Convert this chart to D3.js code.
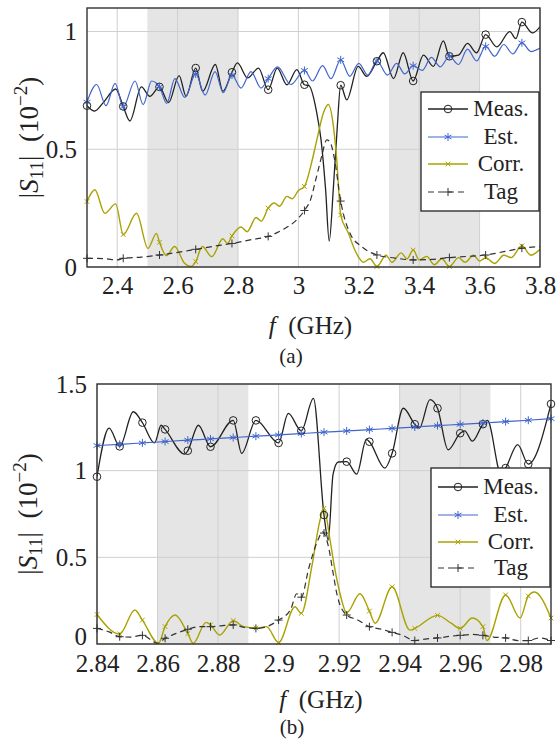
<!DOCTYPE html>
<html><head><meta charset="utf-8">
<script src="https://cdn.jsdelivr.net/npm/d3@7"></script>
<style>body{margin:0;background:#fff}</style>
</head><body>
<svg id="c" width="557" height="740"></svg>
<script>
// ---------------- DATA : panel (a) ----------------
const seriesNames = ["Meas.", "Est.", "Corr.", "Tag"];
const xTicksA = [2.4, 2.6, 2.8, 3, 3.2, 3.4, 3.6, 3.8];
const yTicksA = [0, 0.5, 1];
const bandsA = [[2.5, 2.8], [3.3, 3.6]];
const markXA = [2.30, 2.42, 2.54, 2.66, 2.78, 2.90, 3.02, 3.14, 3.26, 3.38, 3.50, 3.62, 3.74];
const measA = [[2.300,0.685],[2.325,0.662],[2.355,0.700],[2.395,0.756],[2.420,0.682],[2.442,0.620],[2.480,0.765],[2.508,0.725],[2.540,0.765],[2.570,0.698],[2.605,0.813],[2.628,0.725],[2.660,0.845],[2.683,0.746],[2.725,0.860],[2.750,0.746],[2.780,0.827],[2.798,0.867],[2.832,0.803],[2.868,0.845],[2.900,0.753],[2.930,0.845],[2.962,0.774],[2.995,0.838],[3.020,0.774],[3.035,0.770],[3.060,0.660],[3.075,0.540],[3.090,0.330],[3.102,0.110],[3.116,0.340],[3.128,0.580],[3.140,0.772],[3.160,0.710],[3.198,0.852],[3.226,0.810],[3.260,0.874],[3.281,0.910],[3.315,0.800],[3.347,0.910],[3.380,0.790],[3.414,0.900],[3.447,0.852],[3.480,0.960],[3.500,0.895],[3.530,0.900],[3.560,0.950],[3.590,0.910],[3.620,0.987],[3.657,0.935],[3.700,1.000],[3.720,0.970],[3.740,1.040],[3.775,0.994],[3.800,1.020]];
const estA = [[2.300,0.700],[2.332,0.775],[2.363,0.685],[2.393,0.780],[2.420,0.680],[2.459,0.790],[2.486,0.690],[2.514,0.790],[2.540,0.765],[2.564,0.695],[2.591,0.800],[2.624,0.720],[2.660,0.820],[2.691,0.730],[2.724,0.830],[2.751,0.740],[2.780,0.815],[2.810,0.760],[2.843,0.830],[2.876,0.760],[2.900,0.800],[2.931,0.850],[2.975,0.775],[3.020,0.835],[3.047,0.790],[3.080,0.855],[3.108,0.800],[3.140,0.880],[3.170,0.810],[3.200,0.865],[3.230,0.815],[3.260,0.875],[3.295,0.815],[3.325,0.865],[3.352,0.820],[3.380,0.855],[3.410,0.835],[3.440,0.890],[3.470,0.850],[3.500,0.895],[3.530,0.860],[3.560,0.925],[3.590,0.875],[3.620,0.937],[3.650,0.895],[3.680,0.945],[3.710,0.905],[3.740,0.952],[3.770,0.915],[3.800,0.930]];
const corrA = [[2.300,0.278],[2.326,0.328],[2.359,0.228],[2.395,0.268],[2.420,0.138],[2.464,0.228],[2.502,0.079],[2.530,0.143],[2.540,0.105],[2.563,0.048],[2.590,0.087],[2.623,0.016],[2.645,0.002],[2.660,0.023],[2.682,0.087],[2.713,0.044],[2.750,0.120],[2.765,0.100],[2.780,0.132],[2.810,0.170],[2.830,0.150],[2.860,0.210],[2.877,0.195],[2.900,0.250],[2.920,0.272],[2.937,0.258],[2.962,0.300],[2.980,0.290],[3.000,0.325],[3.020,0.342],[3.045,0.450],[3.062,0.545],[3.083,0.655],[3.099,0.690],[3.116,0.597],[3.127,0.455],[3.140,0.221],[3.165,0.145],[3.187,0.072],[3.200,0.040],[3.215,0.020],[3.237,0.035],[3.260,0.002],[3.290,0.050],[3.310,0.020],[3.340,0.060],[3.360,0.035],[3.380,0.072],[3.400,0.030],[3.425,0.045],[3.450,0.010],[3.475,0.035],[3.500,0.002],[3.530,0.040],[3.552,0.020],[3.580,0.050],[3.600,0.025],[3.620,0.040],[3.650,0.015],[3.680,0.050],[3.705,0.040],[3.740,0.090],[3.770,0.050],[3.800,0.075]];
const tagA = [[2.300,0.037],[2.360,0.035],[2.400,0.030],[2.420,0.037],[2.480,0.042],[2.540,0.051],[2.600,0.062],[2.660,0.075],[2.720,0.088],[2.780,0.100],[2.840,0.115],[2.900,0.130],[2.950,0.160],[2.990,0.195],[3.020,0.240],[3.040,0.285],[3.060,0.384],[3.077,0.470],[3.094,0.540],[3.105,0.530],[3.120,0.455],[3.140,0.280],[3.170,0.145],[3.210,0.086],[3.260,0.051],[3.320,0.038],[3.380,0.030],[3.440,0.032],[3.500,0.040],[3.560,0.045],[3.620,0.051],[3.680,0.065],[3.740,0.080],[3.800,0.087]];

// ---------------- DATA : panel (b) ----------------
const xTicksB = [2.84, 2.86, 2.88, 2.9, 2.92, 2.94, 2.96, 2.98];
const yTicksB = [0, 0.5, 1, 1.5];
const bandsB = [[2.86, 2.89], [2.94, 2.97]];
const markXB = [2.84,2.8475,2.855,2.8625,2.87,2.8775,2.885,2.8925,2.9,2.9075,2.915,2.9225,2.93,2.9375,2.945,2.9525,2.96,2.9675,2.975,2.9825,2.99];
const measB = [[2.8400,0.965],[2.8440,1.245],[2.8475,1.140],[2.8520,1.340],[2.8550,1.277],[2.8590,1.160],[2.8612,1.262],[2.8625,1.238],[2.8690,1.095],[2.8700,1.115],[2.8735,1.262],[2.8775,1.138],[2.8850,1.290],[2.8878,1.100],[2.8925,1.290],[2.9000,1.160],[2.9032,1.330],[2.9075,1.230],[2.9115,1.417],[2.9150,0.744],[2.9164,0.600],[2.9180,0.980],[2.9197,1.050],[2.9225,1.052],[2.9258,0.980],[2.9290,1.180],[2.9300,1.167],[2.9351,1.015],[2.9375,1.100],[2.9412,1.360],[2.9450,1.268],[2.9465,1.245],[2.9500,1.410],[2.9525,1.360],[2.9560,1.120],[2.9600,1.216],[2.9615,1.230],[2.9640,1.170],[2.9675,1.268],[2.9690,1.290],[2.9735,0.980],[2.9750,1.015],[2.9790,1.150],[2.9825,1.038],[2.9900,1.385]];
const estB = [[2.84,1.145],[2.8475,1.152],[2.855,1.160],[2.8625,1.168],[2.87,1.176],[2.8775,1.183],[2.885,1.191],[2.8925,1.199],[2.9,1.206],[2.9075,1.214],[2.915,1.222],[2.9225,1.229],[2.93,1.237],[2.9375,1.244],[2.945,1.252],[2.9525,1.260],[2.96,1.267],[2.9675,1.275],[2.975,1.283],[2.9825,1.291],[2.99,1.300]];
const corrB = [[2.8400,0.170],[2.8475,0.058],[2.8525,0.196],[2.8550,0.138],[2.8603,0.004],[2.8625,0.100],[2.8658,0.167],[2.8700,0.060],[2.8718,0.004],[2.8760,0.125],[2.8775,0.110],[2.8805,0.052],[2.8850,0.135],[2.8885,0.100],[2.8925,0.092],[2.8960,0.100],[2.9000,0.008],[2.9054,0.215],[2.9075,0.177],[2.9110,0.450],[2.9135,0.700],[2.9150,0.783],[2.9170,0.600],[2.9185,0.440],[2.9203,0.290],[2.9225,0.180],[2.9269,0.290],[2.9300,0.190],[2.9319,0.120],[2.9375,0.330],[2.9434,0.080],[2.9450,0.090],[2.9525,0.165],[2.9570,0.120],[2.9600,0.090],[2.9640,0.150],[2.9675,0.100],[2.9688,0.020],[2.9750,0.283],[2.9798,0.150],[2.9825,0.277],[2.9845,0.300],[2.9900,0.150]];
const tagB = [[2.8400,0.090],[2.8440,0.070],[2.8475,0.042],[2.8510,0.040],[2.8550,0.050],[2.8600,0.004],[2.8625,0.033],[2.8660,0.060],[2.8700,0.085],[2.8740,0.100],[2.8775,0.100],[2.8810,0.105],[2.8850,0.110],[2.8890,0.095],[2.8925,0.090],[2.8960,0.100],[2.9000,0.138],[2.9040,0.200],[2.9060,0.290],[2.9075,0.270],[2.9100,0.440],[2.9130,0.600],[2.9145,0.648],[2.9150,0.640],[2.9165,0.560],[2.9180,0.410],[2.9195,0.270],[2.9225,0.167],[2.9260,0.140],[2.9300,0.100],[2.9340,0.085],[2.9375,0.067],[2.9410,0.050],[2.9450,0.020],[2.9490,0.030],[2.9525,0.035],[2.9570,0.045],[2.9600,0.050],[2.9640,0.055],[2.9675,0.050],[2.9710,0.040],[2.9750,0.035],[2.9790,0.020],[2.9825,0.020],[2.9860,0.035],[2.9900,0.020]];

// ---------------- STYLES ----------------
const FONT = '"Liberation Serif", "Times New Roman", serif';
const styles = [
  {color:"#222222", mark:"o", dash:null, w:1.3},
  {color:"#4066cc", mark:"*", dash:null, w:1.2},
  {color:"#a9a200", mark:"x", dash:null, w:1.4},
  {color:"#333333", mark:"+", dash:"6,4", w:1.2}
];

const svg = d3.select("#c");

function drawMarker(g, type, color) {
  if (type === "o") {
    g.append("circle").attr("r", 3.8).attr("fill", "none").attr("stroke", color).attr("stroke-width", 1);
  } else {
    const r = type === "*" ? 4 : (type === "x" ? 3.3 : 4);
    const angles = type === "*" ? [90, 30, -30] : (type === "x" ? [45, -45] : [0, 90]);
    angles.forEach(a => {
      const t = a * Math.PI / 180;
      g.append("line").attr("x1", -r*Math.cos(t)).attr("y1", -r*Math.sin(t))
        .attr("x2", r*Math.cos(t)).attr("y2", r*Math.sin(t))
        .attr("stroke", color).attr("stroke-width", 1);
    });
  }
}

function panel(c) {
  const x = d3.scaleLinear().domain(c.xDom).range([c.x0, c.x1]);
  const y = d3.scaleLinear().domain(c.yDom).range([c.y1, c.y0]);
  const g = svg.append("g");
  g.append("clipPath").attr("id", c.id).append("rect")
    .attr("x", c.x0).attr("y", c.y0).attr("width", c.x1 - c.x0).attr("height", c.y1 - c.y0);
  // bands
  g.selectAll(".band").data(c.bands).join("rect")
    .attr("x", d => x(d[0])).attr("width", d => x(d[1]) - x(d[0]))
    .attr("y", c.y0).attr("height", c.y1 - c.y0).attr("fill", "#e5e5e5");
  // grid
  g.selectAll(".gx").data(c.xTicks).join("line")
    .attr("x1", d => x(d)).attr("x2", d => x(d)).attr("y1", c.y0).attr("y2", c.y1)
    .attr("stroke", "#cfcfcf").attr("stroke-width", 1);
  g.selectAll(".gy").data(c.yTicks).join("line")
    .attr("y1", d => y(d)).attr("y2", d => y(d)).attr("x1", c.x0).attr("x2", c.x1)
    .attr("stroke", "#cfcfcf").attr("stroke-width", 1);
  // lines
  const line = d3.line().x(d => x(d[0])).y(d => y(d[1])).curve(d3.curveMonotoneX);
  const lg = g.append("g").attr("clip-path", `url(#${c.id})`);
  c.series.forEach((s, i) => {
    const st = styles[i];
    lg.append("path").datum(s).attr("d", line).attr("fill", "none")
      .attr("stroke", st.color).attr("stroke-width", st.w)
      .attr("stroke-dasharray", st.dash);
  });
  // markers
  c.series.forEach((s, i) => {
    const st = styles[i];
    const pts = s.filter(d => c.markX.some(m => Math.abs(m - d[0]) < 1e-6));
    pts.forEach(d => {
      const mg = g.append("g").attr("transform", `translate(${x(d[0])},${y(d[1])})`);
      drawMarker(mg, st.mark, st.color);
    });
  });
  // axes
  const ax = g.append("g").attr("transform", `translate(0,${c.y1})`)
    .call(d3.axisBottom(x).tickValues(c.xTicks).tickSize(0).tickPadding(c.xpad).tickFormat(d => String(d)));
  ax.select(".domain").remove();
  ax.selectAll("text").style("font-size", "25px");
  const ay = g.append("g").attr("transform", `translate(${c.x0},0)`)
    .call(d3.axisLeft(y).tickValues(c.yTicks).tickSize(0).tickPadding(10).tickFormat(d => String(d)));
  ay.select(".domain").remove();
  ay.selectAll("text").style("font-size", "25px").attr("dy", d => d === 0 ? (c.zeroDy || "0.32em") : "0.32em");
  // frame
  g.append("rect").attr("x", c.x0).attr("y", c.y0).attr("width", c.x1 - c.x0).attr("height", c.y1 - c.y0)
    .attr("fill", "none").attr("stroke", "#333").attr("stroke-width", 1.4);
  // y label
  const yl = g.append("text").attr("transform", `translate(${c.ylx},${(c.y0 + c.y1) / 2}) rotate(-90)`)
    .attr("text-anchor", "middle").style("font-size", "27px");
  yl.append("tspan").text("|");
  yl.append("tspan").style("font-style", "italic").text("S");
  yl.append("tspan").style("font-size", "19px").attr("dy", 5).text("11");
  yl.append("tspan").attr("dy", -5).text("|\u2002(10");
  yl.append("tspan").style("font-size", "19px").attr("dy", -11).text("−2");
  yl.append("tspan").attr("dy", 11).text(")");
  // x label
  const xl = g.append("text").attr("x", (c.x0 + c.x1) / 2 - 3).attr("y", c.xly)
    .attr("text-anchor", "middle").style("font-size", "25px");
  xl.append("tspan").style("font-style", "italic").text("f");
  xl.append("tspan").text("\u2002(GHz)");
  g.append("text").attr("x", c.capx).attr("y", c.capy).attr("text-anchor", "middle")
    .style("font-size", "21px").text(c.cap);
  // legend
  const L = c.legend;
  const leg = g.append("g");
  leg.append("rect").attr("x", L.x).attr("y", L.y).attr("width", L.w).attr("height", L.h)
    .attr("fill", "#fff").attr("stroke", "#222").attr("stroke-width", 1.3);
  seriesNames.forEach((name, i) => {
    const st = styles[i];
    const yy = L.rows[i];
    leg.append("line").attr("x1", L.lx0).attr("x2", L.lx1).attr("y1", yy).attr("y2", yy)
      .attr("stroke", st.color).attr("stroke-width", st.w).attr("stroke-dasharray", st.dash);
    const mg = leg.append("g").attr("transform", `translate(${(L.lx0 + L.lx1) / 2},${yy})`);
    drawMarker(mg, st.mark, st.color);
    leg.append("text").attr("x", L.tx).attr("y", yy + 7).attr("text-anchor", "middle")
      .style("font-size", "23px").text(name);
  });
}

panel({
  id: "clipA", x0: 87, x1: 540, y0: 8, y1: 267, xDom: [2.3, 3.8], yDom: [0, 1.1],
  bands: bandsA, xTicks: xTicksA, yTicks: yTicksA, markX: markXA, xpad: 9,
  series: [measA, estA, corrA, tagA],
  ylx: 38, xly: 334, capx: 291, capy: 363, cap: "(a)",
  legend: {x: 421, y: 92, w: 118, h: 119, rows: [109, 137, 164, 192], lx0: 428, lx1: 468, tx: 501}
});
panel({
  id: "clipB", x0: 97, x1: 551, y0: 384, y1: 644, xDom: [2.84, 2.99], yDom: [0, 1.5],
  bands: bandsB, xTicks: xTicksB, yTicks: yTicksB, markX: markXB, xpad: 10, zeroDy: "0em",
  series: [measB, estB, corrB, tagB],
  ylx: 37, xly: 708, capx: 292, capy: 734, cap: "(b)",
  legend: {x: 431, y: 468, w: 119, h: 119, rows: [487, 515, 542, 568], lx0: 438, lx1: 478, tx: 511}
});
// apply the serif face to every text (inline style)
svg.selectAll("text, tspan").style("font-family", FONT).style("fill", "#222");
</script>
</body></html>
